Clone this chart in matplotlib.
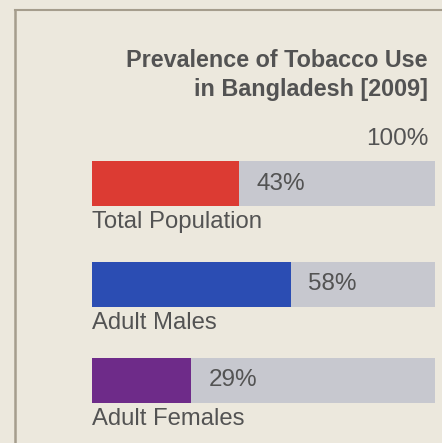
import matplotlib
matplotlib.use("Agg")
import matplotlib.pyplot as plt
from matplotlib.lines import Line2D

# ---- data ----
categories = ["Total Population", "Adult Males", "Adult Females"]
values = [43, 58, 29]
value_labels = ["43%", "58%", "29%"]
total = 100
total_label = "100%"
title = "Prevalence of Tobacco Use\nin Bangladesh [2009]"

# ---- style ----
bar_colors = ["#dc3b33", "#2b4db3", "#6e2b89"]
track_color = "#c7c8cf"
bg = "#ece8dd"
text_color = "#535353"
frame_color = "#a59d8d"
plt.rcParams['font.family'] = ['Liberation Sans', 'DejaVu Sans']

W, H = 442, 443
fig = plt.figure(figsize=(W / 100, H / 100), dpi=100, facecolor=bg)

# axes: x 0..100 maps to pixels 92..435, y in pixel units (top = 0)
x0, x1 = 92, 435
ax = fig.add_axes([x0 / W, 0, (x1 - x0) / W, 1])
ax.set_xlim(0, total)
ax.set_ylim(H, 0)
ax.axis("off")
ax.set_facecolor("none")

centers = [183.5, 284.5, 380.5]
bar_h = 45

ax.barh(centers, [total] * len(values), height=bar_h, color=track_color, left=0)
ax.barh(centers, values, height=bar_h, color=bar_colors, left=0)

for c, v, vl, cat in zip(centers, values, value_labels, categories):
    ax.text(v + 5, c, vl, fontsize=17.5, color=text_color, ha="left", va="center")
    ax.text(0, c + bar_h / 2 + 16, cat, fontsize=17.2, color=text_color,
            ha="left", va="center")

xr = (428 - x0) / (x1 - x0) * total
ax.text(xr, 75, title, fontsize=16.8, fontweight="bold", color=text_color,
        ha="right", va="center", linespacing=1.3, clip_on=False)
ax.text(xr, 139, total_label, fontsize=17.5, color=text_color,
        ha="right", va="center", clip_on=False)

# frame lines
fig.add_artist(Line2D([15 / W, 15 / W], [0, 1 - 10 / H], color=frame_color, lw=1.8))
fig.add_artist(Line2D([15 / W, 1], [1 - 10 / H, 1 - 10 / H], color=frame_color, lw=1.5))

fig.savefig("out.png", dpi=100, facecolor=bg)
